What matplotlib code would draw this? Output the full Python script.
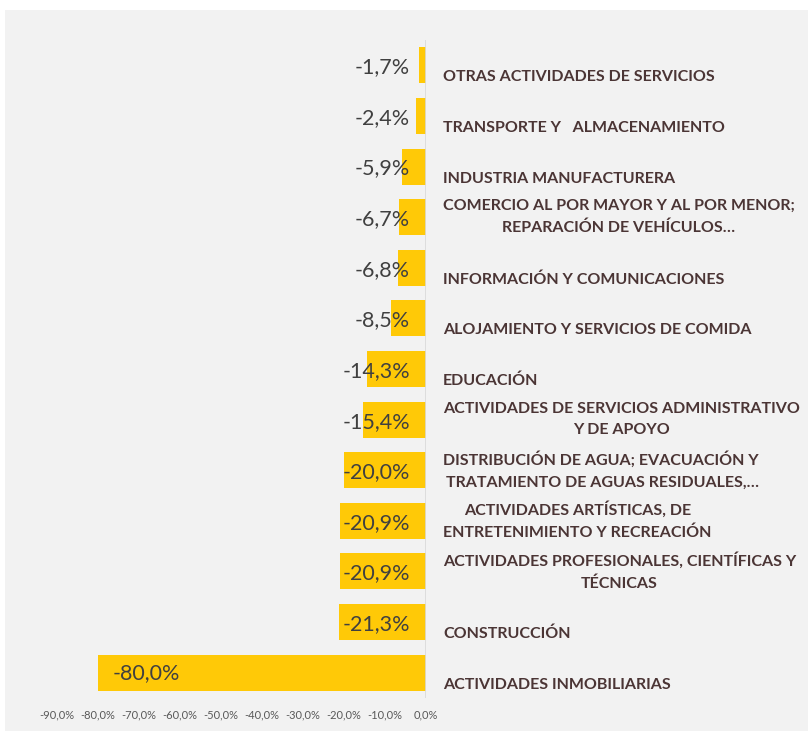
import matplotlib.pyplot as plt
import matplotlib.patches as mpatches

categories = [
    "OTRAS ACTIVIDADES DE SERVICIOS",
    "TRANSPORTE Y   ALMACENAMIENTO",
    "INDUSTRIA MANUFACTURERA",
    "COMERCIO AL POR MAYOR Y AL POR MENOR;\nREPARACIÓN DE VEHÍCULOS…",
    "INFORMACIÓN Y COMUNICACIONES",
    "ALOJAMIENTO Y SERVICIOS DE COMIDA",
    "EDUCACIÓN",
    "ACTIVIDADES DE SERVICIOS ADMINISTRATIVO\nY DE APOYO",
    "DISTRIBUCIÓN DE AGUA; EVACUACIÓN Y \nTRATAMIENTO DE AGUAS RESIDUALES,…",
    "ACTIVIDADES ARTÍSTICAS, DE\nENTRETENIMIENTO Y RECREACIÓN",
    "ACTIVIDADES PROFESIONALES, CIENTÍFICAS Y\nTÉCNICAS",
    "CONSTRUCCIÓN",
    "ACTIVIDADES INMOBILIARIAS",
]
values = [-1.7, -2.4, -5.9, -6.7, -6.8, -8.5, -14.3, -15.4, -20.0, -20.9, -20.9, -21.3, -80.0]
xticks = [-90, -80, -70, -60, -50, -40, -30, -20, -10, 0]

plt.rcParams['font.family'] = ['Lato', 'DejaVu Sans']

fig = plt.figure(figsize=(8.08, 7.31), dpi=100)
fig.patch.set_facecolor('white')
# grey chart area, slightly inset from the top/left edge
fig.patches.append(mpatches.Rectangle((5 / 808, 0), 1, 1 - 10 / 731, transform=fig.transFigure,
                                      facecolor='#f2f2f2', edgecolor='none', zorder=-5))

ax = fig.add_axes([57 / 808, 1 - 698 / 731, (426 - 57) / 808, (698 - 40) / 731])
ax.set_facecolor('none')

y = list(range(len(values)))
ax.barh(y, values, height=0.71, color='#ffc907', zorder=2)
ax.set_xlim(-90, 0)
ax.set_ylim(len(values) - 0.5, -0.5)
ax.axvline(0, color='#d9d9d9', lw=1.2, zorder=3)

for i, (v, name) in enumerate(zip(values, categories)):
    label = f"{v:.1f}%".replace('.', ',')
    if v < -30:
        ax.annotate(label, (v, i), xytext=(15, 0), textcoords='offset pixels',
                    ha='left', va='center', fontsize=15.5, color='#404040', zorder=4)
    else:
        ax.annotate(label, (0, i), xytext=(-16, -2), textcoords='offset pixels',
                    ha='right', va='center', fontsize=15.5, color='#404040', zorder=4)
    dy = 0 if '\n' in name else -12
    ax.annotate(name, (0, i), xytext=(17, dy), textcoords='offset pixels',
                ha='left', va='center', multialignment='center', linespacing=1.7,
                fontsize=11.5, fontweight='bold', color='#4b3535', annotation_clip=False)

ax.set_xticks(xticks)
ax.set_xticklabels([f"{t:.1f}%".replace('.', ',') for t in xticks], fontsize=8, color='#595959')
ax.set_yticks([])
ax.tick_params(axis='x', length=0, pad=8)
for s in ax.spines.values():
    s.set_visible(False)

plt.savefig("out.png", dpi=100, facecolor=fig.get_facecolor())
